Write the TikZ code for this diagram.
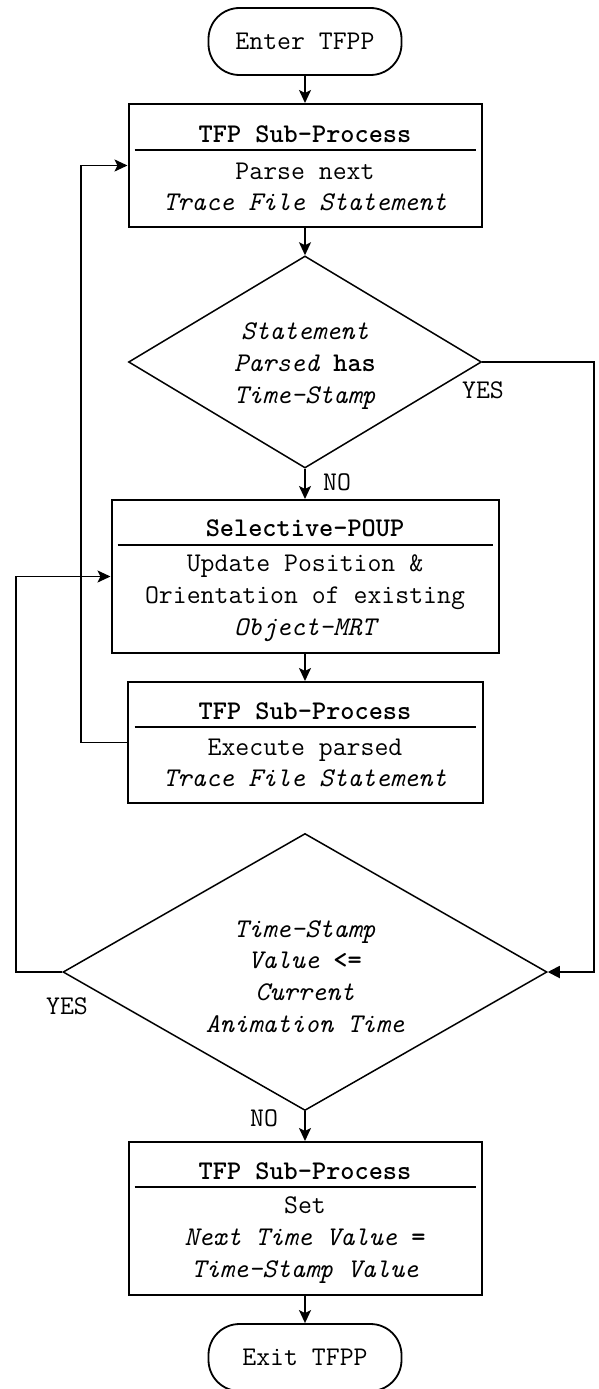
\documentclass[tikz,border=0pt]{standalone}
\usepackage{fontspec}
\usetikzlibrary{shapes.geometric,arrows.meta,calc}

\begin{document}
\begin{tikzpicture}[x=1pt,y=-1pt,
  txt/.style={font=\ttfamily\fontsize{27}{31.7}\selectfont, align=center, inner sep=0pt},
  procbox/.style={draw, line width=2pt, inner sep=0pt},
  termbox/.style={draw, line width=1.8pt, rounded corners=31pt, minimum width=193pt,
                  minimum height=67pt, inner sep=0pt, font=\ttfamily\fontsize{27}{31.7}\selectfont},
  decision/.style={draw, diamond, line width=1.5pt, inner sep=0pt},
  divider/.style={line width=1.1pt},
  flow/.style={line width=1.8pt, -{Stealth[length=13pt,width=12pt,inset=3pt]}},
  flowtri/.style={line width=1.8pt, -{Triangle[length=12pt,width=12pt]}},
  lbl/.style={txt}]

\useasboundingbox (0,0) rectangle (599,1389);

% guide lines for the loop-back connectors
\coordinate (rline) at (594,0);
\coordinate (lnear) at (81,0);
\coordinate (lfar) at (16,0);

% start
\node[termbox] (enter) at (305,41.5) {Enter TFPP};

% parse next statement
\node[procbox, minimum width=353pt, minimum height=123pt] (parse) at (305,165.5) {};
\node[txt] (parseT) at (305,134) {\bfseries TFP Sub-Process};
\draw[divider] ($(parse.north west)+(7,47)$) -- ($(parse.north east)+(-7,47)$);
\node[txt] (parseB) at (305,187) {Parse next\\\itshape Trace File Statement};

% has time stamp?
\node[decision, minimum width=353pt, minimum height=212pt] (hasTS) at (305,362) {};
\node[txt] (hasTST) at (305,366) {\itshape Statement\\\itshape Parsed \upshape\bfseries has\\\itshape Time-Stamp};

% selective update
\node[procbox, minimum width=387pt, minimum height=153pt] (poup) at (305,576.5) {};
\node[txt] (poupT) at (305,528) {\bfseries Selective-POUP};
\draw[divider] ($(poup.north west)+(7,46)$) -- ($(poup.north east)+(-7,46)$);
\node[txt] (poupB) at (305,598) {Update Position \&\\Orientation of existing\\\itshape Object-MRT};

% execute statement
\node[procbox, minimum width=355pt, minimum height=121pt] (exec) at (305,742.5) {};
\node[txt] (execT) at (305,711) {\bfseries TFP Sub-Process};
\draw[divider] ($(exec.north west)+(8,46)$) -- ($(exec.north east)+(-8,46)$);
\node[txt] (execB) at (305,763) {Execute parsed\\\itshape Trace File Statement};

% compare with animation time
\node[decision, minimum width=484pt, minimum height=277pt] (cmp) at (305,972) {};
\node[txt] (cmpT) at (305,976.5) {\itshape Time-Stamp\\\itshape Value \upshape\bfseries <=\\\itshape Current\\\itshape Animation Time};

% set next time value
\node[procbox, minimum width=353pt, minimum height=153pt] (setv) at (305,1218.5) {};
\node[txt] (setvT) at (305,1171) {\bfseries TFP Sub-Process};
\draw[divider] ($(setv.north west)+(7,46)$) -- ($(setv.north east)+(-7,46)$);
\node[txt] (setvB) at (305,1240) {Set\\\itshape Next Time Value \upshape\bfseries =\\\itshape Time-Stamp Value};

% end
\node[termbox] (exit) at (305,1357.5) {Exit TFPP};

% branch labels
\node[lbl] (yes1) at (483,390) {YES};
\node[lbl] (no1) at (337,482) {NO};
\node[lbl] (yes2) at (67,1006) {YES};
\node[lbl] (no2) at (264,1118) {NO};

% main flow
\draw[flow] (enter) -- (parse);
\draw[flow] (parse) -- (hasTS);
\draw[flow] (hasTS) -- (poup);
\draw[flow] (poup) -- (exec);
\draw[flow] (cmp) -- (setv);
\draw[flow] (setv) -- (exit);

% loops and branches
\draw[flowtri] (hasTS.east) -- (hasTS.east -| rline) -- (cmp.east -| rline) -- (cmp.east);
\draw[flow] (exec.west) -- (exec.west -| lnear) -- (parse.west -| lnear) -- (parse.west);
\draw[flow] (cmp.west) -- (cmp.west -| lfar) -- (poup.west -| lfar) -- (poup.west);

\end{tikzpicture}
\end{document}
